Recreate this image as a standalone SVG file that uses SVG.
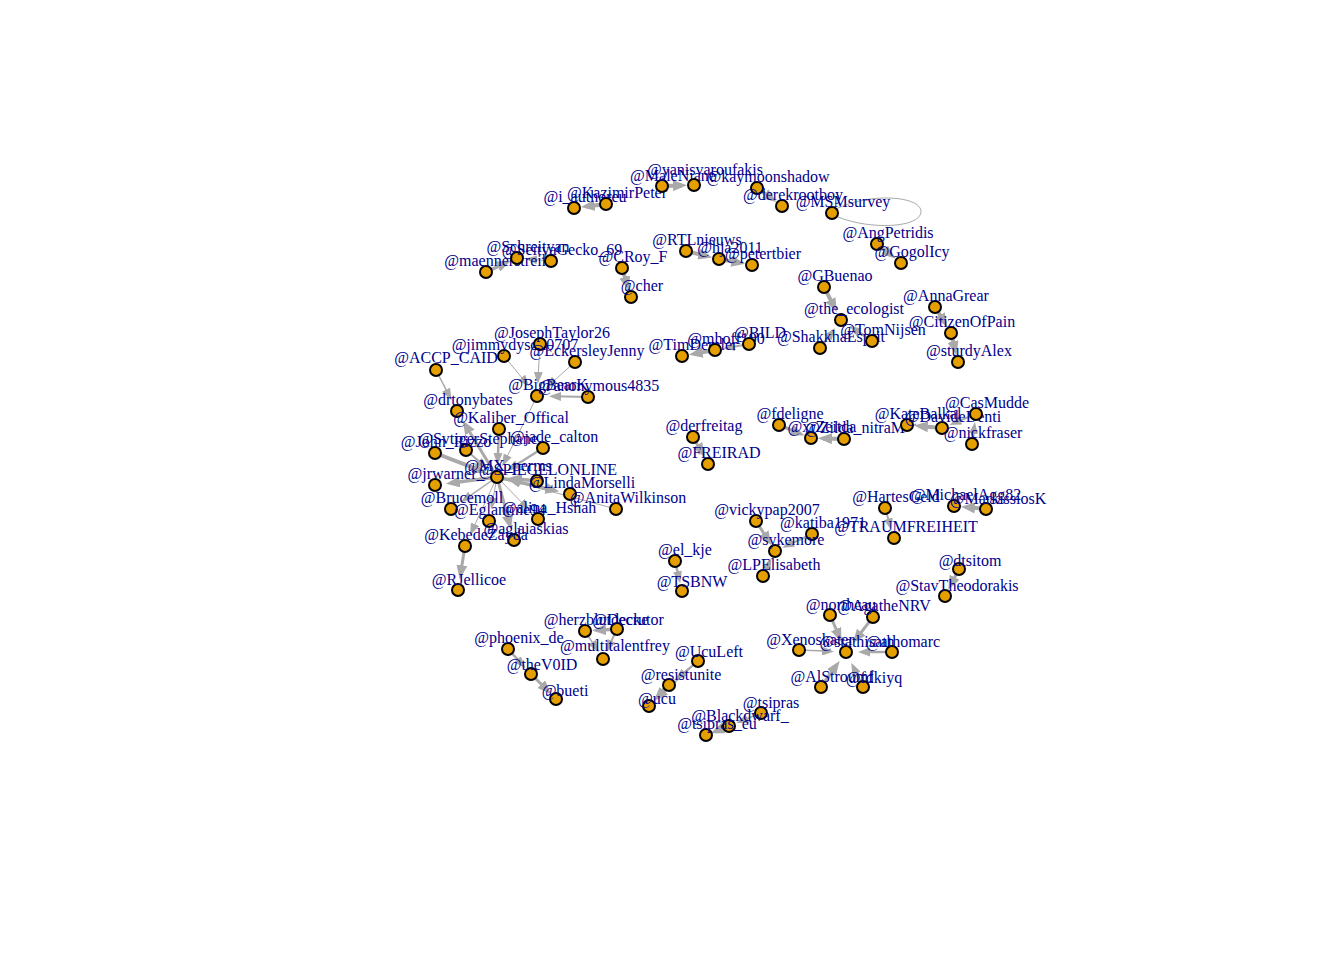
<svg xmlns="http://www.w3.org/2000/svg" width="1344" height="960" viewBox="0 0 1344 960">
<style>
.e line,.e path{stroke:#A9A9A9;fill:none}
.n circle{fill:#E69F00;stroke:#000;stroke-width:2}
.n text{font-family:"Liberation Serif","Times New Roman",serif;font-size:16px;fill:#00008B;text-anchor:middle}
</style>
<defs>
<marker id="a" viewBox="0 0 12 9" markerWidth="12" markerHeight="9" refX="8" refY="4.5" orient="auto" markerUnits="userSpaceOnUse"><path d="M0,0 L12,4.5 L0,9 z" fill="#A9A9A9"/></marker>
<marker id="b" viewBox="0 0 14 11" markerWidth="14" markerHeight="11" refX="9" refY="5.5" orient="auto" markerUnits="userSpaceOnUse"><path d="M0,0 L14,5.5 L0,11 z" fill="#A9A9A9"/></marker>
</defs>
<rect width="1344" height="960" fill="#fff"/>
<g id="connectors" class="e">
<line x1="606" y1="204" x2="585.9" y2="206.5" stroke-width="4" marker-end="url(#b)"/>
<line x1="662" y1="186" x2="682" y2="185.4" stroke-width="4" marker-end="url(#b)"/>
<line x1="757" y1="188" x2="772.3" y2="199" stroke-width="4" marker-end="url(#b)"/>
<path d="M836,209 C870,192 922,196 921,212 C920,228 870,230 838,217" stroke-width="1"/>
<line x1="877" y1="244" x2="891.6" y2="255.5" stroke-width="4" marker-end="url(#b)"/>
<line x1="486" y1="272" x2="506.1" y2="262.9" stroke-width="3.5" marker-end="url(#b)"/>
<line x1="551" y1="261" x2="529" y2="259.1" stroke-width="1" marker-end="url(#a)"/>
<line x1="622" y1="268" x2="627.4" y2="285.6" stroke-width="4" marker-end="url(#b)"/>
<line x1="686" y1="251" x2="707.3" y2="256.2" stroke-width="4" marker-end="url(#b)"/>
<line x1="719" y1="259" x2="740.2" y2="262.9" stroke-width="4" marker-end="url(#b)"/>
<line x1="824" y1="287" x2="834.6" y2="307.6" stroke-width="4" marker-end="url(#b)"/>
<line x1="820" y1="348" x2="832.6" y2="331.2" stroke-width="2.5" marker-end="url(#a)"/>
<line x1="872" y1="341" x2="852.6" y2="327.9" stroke-width="2.5" marker-end="url(#a)"/>
<line x1="935" y1="307" x2="944.7" y2="322.8" stroke-width="4" marker-end="url(#b)"/>
<line x1="951" y1="333" x2="955.2" y2="350.3" stroke-width="4" marker-end="url(#b)"/>
<line x1="715" y1="350" x2="693.8" y2="353.9" stroke-width="4" marker-end="url(#b)"/>
<line x1="749" y1="344" x2="726.8" y2="347.9" stroke-width="2" marker-end="url(#a)"/>
<line x1="436" y1="370" x2="449.7" y2="396.8" stroke-width="1.5" marker-end="url(#a)"/>
<line x1="497" y1="477" x2="465.3" y2="424.7" stroke-width="3" marker-end="url(#b)"/>
<line x1="504" y1="356" x2="526.8" y2="383.7" stroke-width="1" marker-end="url(#a)"/>
<line x1="540" y1="344" x2="537.9" y2="380" stroke-width="1" marker-end="url(#a)"/>
<line x1="575" y1="362" x2="548.9" y2="385.3" stroke-width="1" marker-end="url(#a)"/>
<line x1="588" y1="397" x2="553" y2="396.3" stroke-width="2" marker-end="url(#a)"/>
<line x1="537" y1="396" x2="504.1" y2="462.6" stroke-width="1" marker-end="url(#a)"/>
<line x1="499" y1="429" x2="497.7" y2="461" stroke-width="2.5" marker-end="url(#a)"/>
<line x1="466" y1="450" x2="484.9" y2="466.5" stroke-width="2" marker-end="url(#a)"/>
<line x1="435" y1="453" x2="482.1" y2="471.2" stroke-width="4" marker-end="url(#b)"/>
<line x1="543" y1="448" x2="510.5" y2="468.5" stroke-width="2.5" marker-end="url(#a)"/>
<line x1="497" y1="477" x2="450.9" y2="483" stroke-width="3.5" marker-end="url(#b)"/>
<line x1="537" y1="481" x2="512.9" y2="478.6" stroke-width="3.5" marker-end="url(#b)"/>
<line x1="497" y1="477" x2="554.4" y2="490.4" stroke-width="3.5" marker-end="url(#b)"/>
<line x1="616" y1="509" x2="512.5" y2="481.2" stroke-width="1" marker-end="url(#a)"/>
<line x1="497" y1="477" x2="464.1" y2="499.9" stroke-width="1.5" marker-end="url(#a)"/>
<line x1="497" y1="477" x2="491.9" y2="505.3" stroke-width="1" marker-end="url(#a)"/>
<line x1="497" y1="477" x2="526.8" y2="507.6" stroke-width="1" marker-end="url(#a)"/>
<line x1="497" y1="477" x2="509.8" y2="524.6" stroke-width="3" marker-end="url(#b)"/>
<line x1="497" y1="477" x2="471.7" y2="531.5" stroke-width="1" marker-end="url(#a)"/>
<line x1="465" y1="546" x2="460.5" y2="574.2" stroke-width="3" marker-end="url(#b)"/>
<line x1="693" y1="437" x2="702" y2="452.6" stroke-width="3" marker-end="url(#b)"/>
<line x1="779" y1="425" x2="799.9" y2="433.5" stroke-width="3" marker-end="url(#b)"/>
<line x1="844" y1="439" x2="823" y2="438.4" stroke-width="4" marker-end="url(#b)"/>
<line x1="942" y1="428" x2="919" y2="426" stroke-width="4" marker-end="url(#b)"/>
<line x1="976" y1="414" x2="953.1" y2="423.4" stroke-width="2" marker-end="url(#a)"/>
<line x1="972" y1="444" x2="974.4" y2="425.9" stroke-width="2.5" marker-end="url(#a)"/>
<line x1="756" y1="521" x2="768.6" y2="540.9" stroke-width="3" marker-end="url(#b)"/>
<line x1="812" y1="534" x2="785.9" y2="546" stroke-width="2" marker-end="url(#a)"/>
<line x1="763" y1="576" x2="769.8" y2="561.8" stroke-width="2.5" marker-end="url(#a)"/>
<line x1="675" y1="561" x2="679.3" y2="579.3" stroke-width="2.5" marker-end="url(#a)"/>
<line x1="885" y1="508" x2="890.5" y2="526.5" stroke-width="2" marker-end="url(#a)"/>
<line x1="986" y1="509" x2="966" y2="507.1" stroke-width="4" marker-end="url(#b)"/>
<line x1="959" y1="569" x2="950.5" y2="585.3" stroke-width="3" marker-end="url(#b)"/>
<line x1="617" y1="629" x2="597" y2="630.3" stroke-width="3.5" marker-end="url(#b)"/>
<line x1="617" y1="629" x2="608.1" y2="648.1" stroke-width="2" marker-end="url(#a)"/>
<line x1="585" y1="631" x2="596.5" y2="648.9" stroke-width="1.5" marker-end="url(#a)"/>
<line x1="508" y1="649" x2="522.9" y2="665.2" stroke-width="2.5" marker-end="url(#a)"/>
<line x1="531" y1="674" x2="547.5" y2="690.5" stroke-width="3" marker-end="url(#b)"/>
<line x1="698" y1="661" x2="678.3" y2="677.3" stroke-width="2" marker-end="url(#a)"/>
<line x1="669" y1="685" x2="657.3" y2="697.3" stroke-width="3" marker-end="url(#b)"/>
<line x1="698" y1="661" x2="659.3" y2="696.5" stroke-width="1.5" marker-end="url(#a)"/>
<line x1="761" y1="713" x2="740.1" y2="721.5" stroke-width="1.5" marker-end="url(#a)"/>
<line x1="729" y1="726" x2="715.3" y2="731.4" stroke-width="4" marker-end="url(#b)"/>
<line x1="830" y1="615" x2="839.6" y2="637.3" stroke-width="3" marker-end="url(#b)"/>
<line x1="873" y1="617" x2="855.8" y2="639.3" stroke-width="3" marker-end="url(#b)"/>
<line x1="799" y1="650" x2="830" y2="651.3" stroke-width="1.5" marker-end="url(#a)"/>
<line x1="892" y1="652" x2="862" y2="652" stroke-width="2.5" marker-end="url(#a)"/>
<line x1="821" y1="687" x2="836.7" y2="665" stroke-width="3.5" marker-end="url(#b)"/>
<line x1="863" y1="687" x2="853" y2="666.4" stroke-width="2.5" marker-end="url(#a)"/>
</g>
<g id="n-i_authoreu" class="n"><circle cx="574" cy="208" r="6"/><text x="585" y="202">@i_authoreu</text></g>
<g id="n-KazimirPeter" class="n"><circle cx="606" cy="204" r="6"/><text x="617" y="198">@KazimirPeter</text></g>
<g id="n-MaleNiane" class="n"><circle cx="662" cy="186" r="6"/><text x="673" y="181">@MaleNiane</text></g>
<g id="n-yanisvaroufakis" class="n"><circle cx="694" cy="185" r="6"/><text x="705" y="175">@yanisvaroufakis</text></g>
<g id="n-kaymoonshadow" class="n"><circle cx="757" cy="188" r="6"/><text x="768" y="182">@kaymoonshadow</text></g>
<g id="n-derekrootboy" class="n"><circle cx="782" cy="206" r="6"/><text x="793" y="200">@derekrootboy</text></g>
<g id="n-MSMsurvey" class="n"><circle cx="832" cy="213" r="6"/><text x="843" y="207">@MSMsurvey</text></g>
<g id="n-AngPetridis" class="n"><circle cx="877" cy="244" r="6"/><text x="888" y="238">@AngPetridis</text></g>
<g id="n-GogolIcy" class="n"><circle cx="901" cy="263" r="6"/><text x="912" y="257">@GogolIcy</text></g>
<g id="n-maennerstreik" class="n"><circle cx="486" cy="272" r="6"/><text x="497" y="266">@maennerstreik</text></g>
<g id="n-Schreityan" class="n"><circle cx="517" cy="258" r="6"/><text x="528" y="252">@Schreityan</text></g>
<g id="n-SeityaGecko_69" class="n"><circle cx="551" cy="261" r="6"/><text x="562" y="255">@SeityaGecko_69</text></g>
<g id="n-CRoy_F" class="n"><circle cx="622" cy="268" r="6"/><text x="633" y="262">@CRoy_F</text></g>
<g id="n-cher" class="n"><circle cx="631" cy="297" r="6"/><text x="642" y="291">@cher</text></g>
<g id="n-RTLnieuws" class="n"><circle cx="686" cy="251" r="6"/><text x="697" y="245">@RTLnieuws</text></g>
<g id="n-hja2011" class="n"><circle cx="719" cy="259" r="6"/><text x="730" y="253">@hja2011</text></g>
<g id="n-petertbier" class="n"><circle cx="752" cy="265" r="6"/><text x="763" y="259">@petertbier</text></g>
<g id="n-GBuenao" class="n"><circle cx="824" cy="287" r="6"/><text x="835" y="281">@GBuenao</text></g>
<g id="n-the_ecologist" class="n"><circle cx="841" cy="320" r="6"/><text x="854" y="314">@the_ecologist</text></g>
<g id="n-ShakkhaEsprit" class="n"><circle cx="820" cy="348" r="6"/><text x="831" y="342">@ShakkhaEsprit</text></g>
<g id="n-TomNijsen" class="n"><circle cx="872" cy="341" r="6"/><text x="883" y="335">@TomNijsen</text></g>
<g id="n-AnnaGrear" class="n"><circle cx="935" cy="307" r="6"/><text x="946" y="301">@AnnaGrear</text></g>
<g id="n-CitizenOfPain" class="n"><circle cx="951" cy="333" r="6"/><text x="962" y="327">@CitizenOfPain</text></g>
<g id="n-sturdyAlex" class="n"><circle cx="958" cy="362" r="6"/><text x="969" y="356">@sturdyAlex</text></g>
<g id="n-TimDemler" class="n"><circle cx="682" cy="356" r="6"/><text x="693" y="350">@TimDemler</text></g>
<g id="n-mhoff190" class="n"><circle cx="715" cy="350" r="6"/><text x="726" y="344">@mhoff190</text></g>
<g id="n-BILD" class="n"><circle cx="749" cy="344" r="6"/><text x="760" y="338">@BILD</text></g>
<g id="n-ACCP_CAID" class="n"><circle cx="436" cy="370" r="6"/><text x="446" y="363">@ACCP_CAID</text></g>
<g id="n-drtonybates" class="n"><circle cx="457" cy="411" r="6"/><text x="468" y="405">@drtonybates</text></g>
<g id="n-jimmydyson0707" class="n"><circle cx="504" cy="356" r="6"/><text x="515" y="350">@jimmydyson0707</text></g>
<g id="n-JosephTaylor26" class="n"><circle cx="540" cy="344" r="6"/><text x="552" y="338">@JosephTaylor26</text></g>
<g id="n-EckersleyJenny" class="n"><circle cx="575" cy="362" r="6"/><text x="587" y="356">@EckersleyJenny</text></g>
<g id="n-BigBearK" class="n"><circle cx="537" cy="396" r="6"/><text x="548" y="390">@BigBearK</text></g>
<g id="n-anonymous4835" class="n"><circle cx="588" cy="397" r="6"/><text x="599" y="391">@anonymous4835</text></g>
<g id="n-Kaliber_Offical" class="n"><circle cx="499" cy="429" r="6"/><text x="511" y="423">@Kaliber_Offical</text></g>
<g id="n-SvtigerStephane" class="n"><circle cx="466" cy="450" r="6"/><text x="478" y="444">@SvtigerStephane</text></g>
<g id="n-John_Rizzo" class="n"><circle cx="435" cy="453" r="6"/><text x="446" y="447">@John_Rizzo</text></g>
<g id="n-jade_calton" class="n"><circle cx="543" cy="448" r="6"/><text x="554" y="442">@jade_calton</text></g>
<g id="n-MX_perms" class="n"><circle cx="497" cy="477" r="6"/><text x="508" y="471">@MX_perms</text></g>
<g id="n-SPIEGELONLINE" class="n"><circle cx="537" cy="481" r="6"/><text x="548" y="475">@SPIEGELONLINE</text></g>
<g id="n-jrwarner_" class="n"><circle cx="435" cy="485" r="6"/><text x="446" y="479">@jrwarner_</text></g>
<g id="n-LindaMorselli" class="n"><circle cx="570" cy="494" r="6"/><text x="582" y="488">@LindaMorselli</text></g>
<g id="n-AnitaWilkinson" class="n"><circle cx="616" cy="509" r="6"/><text x="628" y="503">@AnitaWilkinson</text></g>
<g id="n-Brucemoll" class="n"><circle cx="451" cy="509" r="6"/><text x="462" y="503">@Brucemoll</text></g>
<g id="n-Eglantine94" class="n"><circle cx="489" cy="521" r="6"/><text x="500" y="515">@Eglantine94</text></g>
<g id="n-alina_Hshah" class="n"><circle cx="538" cy="519" r="6"/><text x="549" y="513">@alina_Hshah</text></g>
<g id="n-aglaiaskias" class="n"><circle cx="514" cy="540" r="6"/><text x="526" y="534">@aglaiaskias</text></g>
<g id="n-KebedeZayda" class="n"><circle cx="465" cy="546" r="6"/><text x="476" y="540">@KebedeZayda</text></g>
<g id="n-RJellicoe" class="n"><circle cx="458" cy="590" r="6"/><text x="469" y="585">@RJellicoe</text></g>
<g id="n-derfreitag" class="n"><circle cx="693" cy="437" r="6"/><text x="704" y="431">@derfreitag</text></g>
<g id="n-FREIRAD" class="n"><circle cx="708" cy="464" r="6"/><text x="719" y="458">@FREIRAD</text></g>
<g id="n-fdeligne" class="n"><circle cx="779" cy="425" r="6"/><text x="790" y="419">@fdeligne</text></g>
<g id="n-xrZeitda" class="n"><circle cx="811" cy="438" r="6"/><text x="822" y="432">@xrZeitda</text></g>
<g id="n-Zilda_nitraM" class="n"><circle cx="844" cy="439" r="6"/><text x="855" y="433">@Zilda_nitraM</text></g>
<g id="n-KateBalkal" class="n"><circle cx="907" cy="425" r="6"/><text x="918" y="419">@KateBalkal</text></g>
<g id="n-DavideDenti" class="n"><circle cx="942" cy="428" r="6"/><text x="953" y="422">@DavideDenti</text></g>
<g id="n-CasMudde" class="n"><circle cx="976" cy="414" r="6"/><text x="987" y="408">@CasMudde</text></g>
<g id="n-nickfraser" class="n"><circle cx="972" cy="444" r="6"/><text x="983" y="438">@nickfraser</text></g>
<g id="n-vickypap2007" class="n"><circle cx="756" cy="521" r="6"/><text x="767" y="515">@vickypap2007</text></g>
<g id="n-katiba1971" class="n"><circle cx="812" cy="534" r="6"/><text x="823" y="528">@katiba1971</text></g>
<g id="n-sykemore" class="n"><circle cx="775" cy="551" r="6"/><text x="786" y="545">@sykemore</text></g>
<g id="n-LPElisabeth" class="n"><circle cx="763" cy="576" r="6"/><text x="774" y="570">@LPElisabeth</text></g>
<g id="n-el_kje" class="n"><circle cx="675" cy="561" r="6"/><text x="685" y="555">@el_kje</text></g>
<g id="n-TSBNW" class="n"><circle cx="682" cy="591" r="6"/><text x="692" y="587">@TSBNW</text></g>
<g id="n-HartesGeld" class="n"><circle cx="885" cy="508" r="6"/><text x="896" y="502">@HartesGeld</text></g>
<g id="n-TRAUMFREIHEIT" class="n"><circle cx="894" cy="538" r="6"/><text x="906" y="532">@TRAUMFREIHEIT</text></g>
<g id="n-MichaelAgg82" class="n"><circle cx="954" cy="506" r="6"/><text x="966" y="500">@MichaelAgg82</text></g>
<g id="n-MarkissiosK" class="n"><circle cx="986" cy="509" r="6"/><text x="998" y="504">@MarkissiosK</text></g>
<g id="n-dtsitom" class="n"><circle cx="959" cy="569" r="6"/><text x="970" y="566">@dtsitom</text></g>
<g id="n-StavTheodorakis" class="n"><circle cx="945" cy="596" r="6"/><text x="957" y="591">@StavTheodorakis</text></g>
<g id="n-herzblutdecke" class="n"><circle cx="585" cy="631" r="6"/><text x="596" y="625">@herzblutdecke</text></g>
<g id="n-Decrutor" class="n"><circle cx="617" cy="629" r="6"/><text x="628" y="625">@Decrutor</text></g>
<g id="n-multitalentfrey" class="n"><circle cx="603" cy="659" r="6"/><text x="615" y="651">@multitalentfrey</text></g>
<g id="n-phoenix_de" class="n"><circle cx="508" cy="649" r="6"/><text x="519" y="643">@phoenix_de</text></g>
<g id="n-theV0ID" class="n"><circle cx="531" cy="674" r="6"/><text x="542" y="670">@theV0ID</text></g>
<g id="n-bueti" class="n"><circle cx="556" cy="699" r="6"/><text x="565" y="696">@bueti</text></g>
<g id="n-UcuLeft" class="n"><circle cx="698" cy="661" r="6"/><text x="709" y="657">@UcuLeft</text></g>
<g id="n-resistunite" class="n"><circle cx="669" cy="685" r="6"/><text x="681" y="680">@resistunite</text></g>
<g id="n-ucu" class="n"><circle cx="649" cy="706" r="6"/><text x="657" y="704">@ucu</text></g>
<g id="n-tsipras" class="n"><circle cx="761" cy="713" r="6"/><text x="771" y="708">@tsipras</text></g>
<g id="n-Blackdwarf_" class="n"><circle cx="729" cy="726" r="6"/><text x="740" y="721">@Blackdwarf_</text></g>
<g id="n-tsipras_eu" class="n"><circle cx="706" cy="735" r="6"/><text x="717" y="729">@tsipras_eu</text></g>
<g id="n-northcau" class="n"><circle cx="830" cy="615" r="6"/><text x="841" y="610">@northcau</text></g>
<g id="n-AgatheNRV" class="n"><circle cx="873" cy="617" r="6"/><text x="884" y="611">@AgatheNRV</text></g>
<g id="n-Xenoskater" class="n"><circle cx="799" cy="650" r="6"/><text x="810" y="645">@Xenoskater</text></g>
<g id="n-stathisath" class="n"><circle cx="846" cy="652" r="6"/><text x="857" y="647">@stathisath</text></g>
<g id="n-athomarc" class="n"><circle cx="892" cy="652" r="6"/><text x="903" y="647">@athomarc</text></g>
<g id="n-AlStroumf" class="n"><circle cx="821" cy="687" r="6"/><text x="832" y="682">@AlStroumf</text></g>
<g id="n-fdkiyq" class="n"><circle cx="863" cy="687" r="6"/><text x="874" y="683">@fdkiyq</text></g>
</svg>
